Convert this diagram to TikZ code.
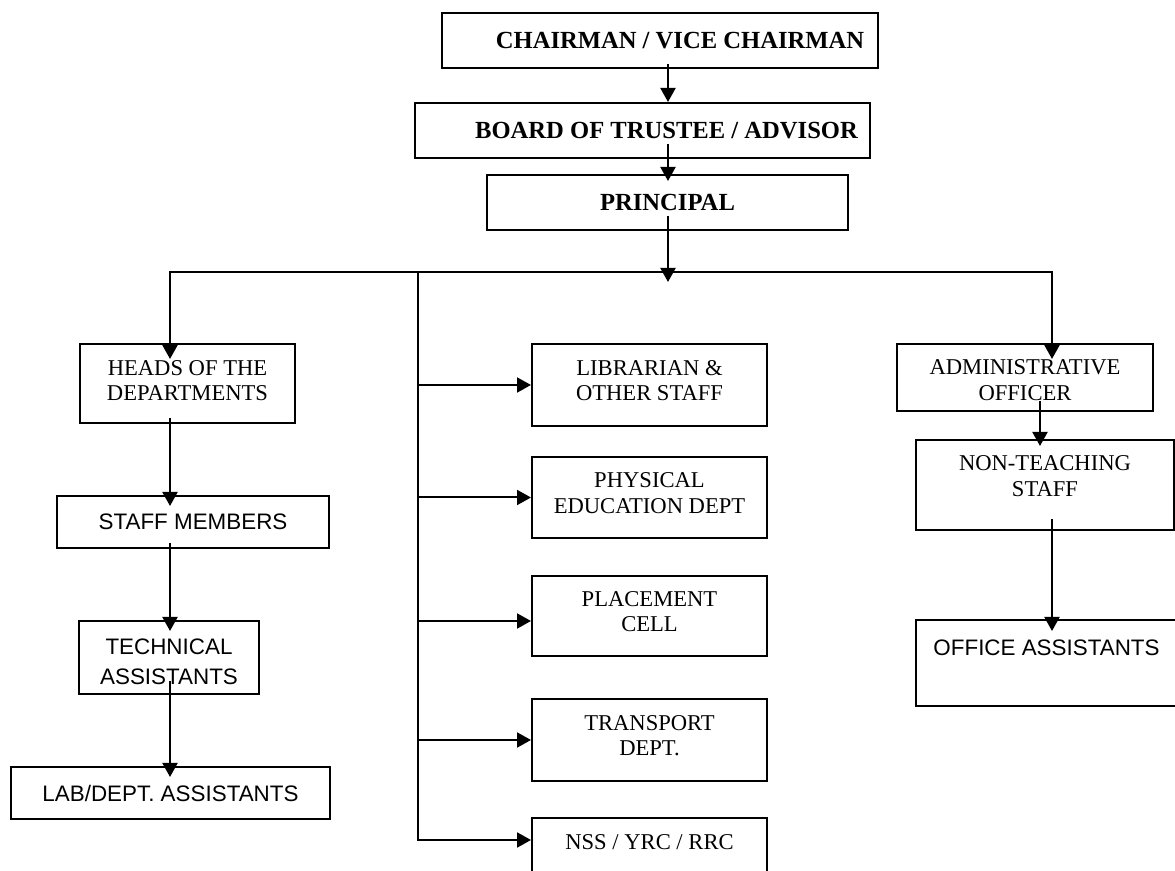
\documentclass[tikz,border=0pt]{standalone}
\usepackage{fontspec}
\setmainfont{Liberation Serif}
\setsansfont{Liberation Sans}
\usetikzlibrary{arrows.meta}
\usetikzlibrary{calc}
\newcommand{\lowpad}[1]{\rule[-#1]{0pt}{#1}}
\newcommand{\toppad}[1]{\rule{0pt}{#1}}

\begin{document}
\begin{tikzpicture}[x=0.5pt, y=-0.5pt,
        box/.style={draw, line width=1pt, inner sep=0pt, align=center, font=\fontsize{11.3}{12.9}\selectfont},
        sbox/.style={box, font=\sffamily\fontsize{11.2}{15}\selectfont},
        topbox/.style={box, font=\bfseries\fontsize{12.3}{14}\selectfont},
        arr/.style={-{Triangle[length=7pt, width=7.5pt]}, line width=1pt}]
        \clip (0,0) rectangle (1175,871);

        % management
        \node[topbox, minimum width=218pt, minimum height=27.5pt] (chair) at (660,40.5) {\hspace*{20pt}CHAIRMAN / VICE CHAIRMAN};
        \node[topbox, minimum width=227.5pt, minimum height=27.5pt] (board) at (642.5,130.5) {\hspace*{24pt}BOARD OF TRUSTEE / ADVISOR};
        \node[topbox, minimum width=180.5pt, minimum height=27.5pt] (principal) at (667.5,202.5) {PRINCIPAL};

        % left column
        \node[box, minimum width=107.5pt, minimum height=39.5pt] (heads) at (187.5,383.5) {HEADS OF THE\\DEPARTMENTS\lowpad{3pt}};
        \node[sbox, minimum width=136pt, minimum height=26pt] (staff) at (193,522) {STAFF MEMBERS};
        \node[sbox, minimum width=90pt, minimum height=36.5pt] (tech) at (169,657.5) {\toppad{12.5pt}TECHNICAL\\ASSISTANTS};
        \node[sbox, minimum width=159.5pt, minimum height=26pt] (lab) at (170.5,793) {LAB/DEPT. ASSISTANTS};

        % middle column
        \node[box, minimum width=117.5pt, minimum height=41pt] (lib) at (649.5,385) {LIBRARIAN \&\\OTHER STAFF\lowpad{4.5pt}};
        \node[box, minimum width=117.5pt, minimum height=40.5pt] (phys) at (649.5,497.5) {PHYSICAL\\EDUCATION DEPT\lowpad{4.5pt}};
        \node[box, minimum width=117.5pt, minimum height=40pt] (place) at (649.5,616) {PLACEMENT\\CELL\lowpad{4.5pt}};
        \node[box, minimum width=117.5pt, minimum height=41pt] (trans) at (649.5,740) {TRANSPORT\\DEPT.\lowpad{4.5pt}};
        \node[box, minimum width=117.5pt, minimum height=36pt] (nss) at (649.5,854) {NSS / YRC / RRC\lowpad{12pt}};

        % right column
        \node[box, minimum width=128pt, minimum height=33.5pt] (admin) at (1025,377.5) {\toppad{10.5pt}ADMINISTRATIVE\\OFFICER};
        \node[box, minimum width=129pt, minimum height=45pt] (nt) at (1045,485) {NON-TEACHING\\STAFF\lowpad{9pt}};
        \node[sbox, minimum width=130.5pt, minimum height=43pt] (office) at (1046.5,663) {OFFICE ASSISTANTS\lowpad{15pt}};

        \coordinate (spine) at (668,0);
        \coordinate (barL) at (170,272);
        \coordinate (barM) at (418,272);
        \coordinate (barR) at (1052,272);

        \draw[arr] ([yshift=2.5pt]chair.south -| spine) -- (board.north -| spine);
        \draw[arr] ([yshift=7.5pt]board.south -| spine) -- ([yshift=-3.5pt]principal.north -| spine);
        \draw[arr] ([yshift=7.5pt]principal.south -| spine) -- ([yshift=-5pt]barL -| spine);

        \draw[arr] (barM) -| ([yshift=-8pt]heads.north -| barL);
        \draw[arr] (barM) -| ([yshift=-8pt]admin.north -| barR);

        \draw[arr] ([yshift=3pt]heads.south -| barL) -- ([yshift=-5.5pt]staff.north -| barL);
        \draw[arr] ([yshift=3pt]staff.south -| barL) -- ([yshift=-5.5pt]tech.north -| barL);
        \draw[arr] ([yshift=7pt]tech.south -| barL) -- ([yshift=-5.5pt]lab.north -| barL);

        \draw[arr] (barM |- lib.west) -- (lib.west);
        \draw[arr] (barM |- phys.west) -- (phys.west);
        \draw[arr] ([yshift=-2.5pt]barM |- place.west) -- ([yshift=-2.5pt]place.west);
        \draw[arr] (barM |- trans.west) -- (trans.west);
        \draw[arr] (barM) |- ([yshift=7pt]nss.west);

        \draw[arr] ([xshift=-6pt, yshift=5.5pt]admin.south -| barR) -- ([xshift=-6pt, yshift=-3.5pt]nt.north -| barR);
        \draw[arr] ([yshift=6pt]nt.south -| barR) -- ([yshift=-6pt]office.north -| barR);
    \end{tikzpicture}
\end{document}
